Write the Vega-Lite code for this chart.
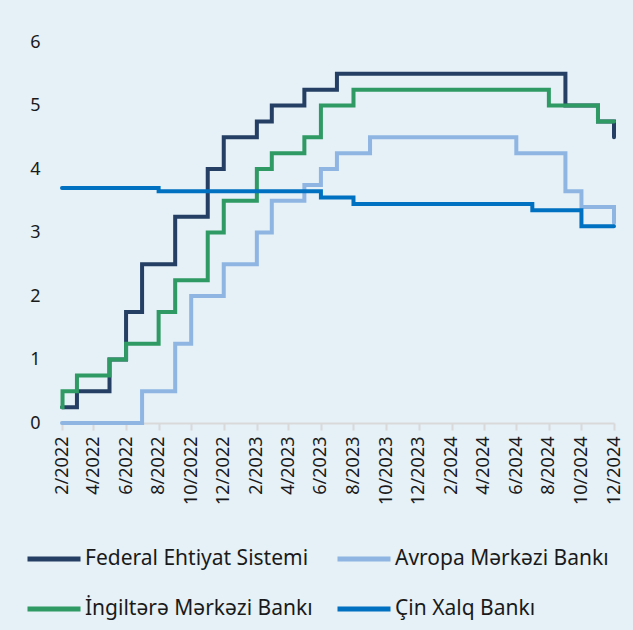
{
  "$schema": "https://vega.github.io/schema/vega-lite/v6.json",
  "width": 552,
  "height": 381,
  "autosize": {"type": "none"},
  "padding": {"left": 62, "top": 42, "right": 19, "bottom": 207},
  "background": "#e5f0f7",
  "config": {
    "view": {"stroke": null},
    "font": "Noto Sans",
    "axis": {"labelFont": "Noto Sans", "labelColor": "#1a1a1a", "grid": false, "title": null}
  },
  "data": {
    "values": [
      {"date": "2022-02-01", "bank": "Federal Ehtiyat Sistemi", "rate": 0.25},
      {"date": "2022-03-01", "bank": "Federal Ehtiyat Sistemi", "rate": 0.5},
      {"date": "2022-05-01", "bank": "Federal Ehtiyat Sistemi", "rate": 1.0},
      {"date": "2022-06-01", "bank": "Federal Ehtiyat Sistemi", "rate": 1.75},
      {"date": "2022-07-01", "bank": "Federal Ehtiyat Sistemi", "rate": 2.5},
      {"date": "2022-09-01", "bank": "Federal Ehtiyat Sistemi", "rate": 3.25},
      {"date": "2022-11-01", "bank": "Federal Ehtiyat Sistemi", "rate": 4.0},
      {"date": "2022-12-01", "bank": "Federal Ehtiyat Sistemi", "rate": 4.5},
      {"date": "2023-02-01", "bank": "Federal Ehtiyat Sistemi", "rate": 4.75},
      {"date": "2023-03-01", "bank": "Federal Ehtiyat Sistemi", "rate": 5.0},
      {"date": "2023-05-01", "bank": "Federal Ehtiyat Sistemi", "rate": 5.25},
      {"date": "2023-07-01", "bank": "Federal Ehtiyat Sistemi", "rate": 5.5},
      {"date": "2024-09-01", "bank": "Federal Ehtiyat Sistemi", "rate": 5.0},
      {"date": "2024-11-01", "bank": "Federal Ehtiyat Sistemi", "rate": 4.75},
      {"date": "2024-12-01", "bank": "Federal Ehtiyat Sistemi", "rate": 4.5},
      {"date": "2022-02-01", "bank": "Avropa Mərkəzi Bankı", "rate": 0.0},
      {"date": "2022-07-01", "bank": "Avropa Mərkəzi Bankı", "rate": 0.5},
      {"date": "2022-09-01", "bank": "Avropa Mərkəzi Bankı", "rate": 1.25},
      {"date": "2022-10-01", "bank": "Avropa Mərkəzi Bankı", "rate": 2.0},
      {"date": "2022-12-01", "bank": "Avropa Mərkəzi Bankı", "rate": 2.5},
      {"date": "2023-02-01", "bank": "Avropa Mərkəzi Bankı", "rate": 3.0},
      {"date": "2023-03-01", "bank": "Avropa Mərkəzi Bankı", "rate": 3.5},
      {"date": "2023-05-01", "bank": "Avropa Mərkəzi Bankı", "rate": 3.75},
      {"date": "2023-06-01", "bank": "Avropa Mərkəzi Bankı", "rate": 4.0},
      {"date": "2023-07-01", "bank": "Avropa Mərkəzi Bankı", "rate": 4.25},
      {"date": "2023-09-01", "bank": "Avropa Mərkəzi Bankı", "rate": 4.5},
      {"date": "2024-06-01", "bank": "Avropa Mərkəzi Bankı", "rate": 4.25},
      {"date": "2024-09-01", "bank": "Avropa Mərkəzi Bankı", "rate": 3.65},
      {"date": "2024-10-01", "bank": "Avropa Mərkəzi Bankı", "rate": 3.4},
      {"date": "2024-12-01", "bank": "Avropa Mərkəzi Bankı", "rate": 3.15},
      {"date": "2022-02-01", "bank": "İngiltərə Mərkəzi Bankı", "rate": 0.25},
      {"date": "2022-02-02", "bank": "İngiltərə Mərkəzi Bankı", "rate": 0.5},
      {"date": "2022-03-01", "bank": "İngiltərə Mərkəzi Bankı", "rate": 0.75},
      {"date": "2022-05-01", "bank": "İngiltərə Mərkəzi Bankı", "rate": 1.0},
      {"date": "2022-06-01", "bank": "İngiltərə Mərkəzi Bankı", "rate": 1.25},
      {"date": "2022-08-01", "bank": "İngiltərə Mərkəzi Bankı", "rate": 1.75},
      {"date": "2022-09-01", "bank": "İngiltərə Mərkəzi Bankı", "rate": 2.25},
      {"date": "2022-11-01", "bank": "İngiltərə Mərkəzi Bankı", "rate": 3.0},
      {"date": "2022-12-01", "bank": "İngiltərə Mərkəzi Bankı", "rate": 3.5},
      {"date": "2023-02-01", "bank": "İngiltərə Mərkəzi Bankı", "rate": 4.0},
      {"date": "2023-03-01", "bank": "İngiltərə Mərkəzi Bankı", "rate": 4.25},
      {"date": "2023-05-01", "bank": "İngiltərə Mərkəzi Bankı", "rate": 4.5},
      {"date": "2023-06-01", "bank": "İngiltərə Mərkəzi Bankı", "rate": 5.0},
      {"date": "2023-08-01", "bank": "İngiltərə Mərkəzi Bankı", "rate": 5.25},
      {"date": "2024-08-01", "bank": "İngiltərə Mərkəzi Bankı", "rate": 5.0},
      {"date": "2024-11-01", "bank": "İngiltərə Mərkəzi Bankı", "rate": 4.75},
      {"date": "2024-12-01", "bank": "İngiltərə Mərkəzi Bankı", "rate": 4.75},
      {"date": "2022-02-01", "bank": "Çin Xalq Bankı", "rate": 3.7},
      {"date": "2022-08-01", "bank": "Çin Xalq Bankı", "rate": 3.65},
      {"date": "2023-06-01", "bank": "Çin Xalq Bankı", "rate": 3.55},
      {"date": "2023-08-01", "bank": "Çin Xalq Bankı", "rate": 3.45},
      {"date": "2024-07-01", "bank": "Çin Xalq Bankı", "rate": 3.35},
      {"date": "2024-10-01", "bank": "Çin Xalq Bankı", "rate": 3.1},
      {"date": "2024-12-01", "bank": "Çin Xalq Bankı", "rate": 3.1}
    ]
  },
  "mark": {"type": "line", "interpolate": "step-after", "strokeWidth": 4, "strokeCap": "round"},
  "encoding": {
    "x": {
      "field": "date",
      "type": "temporal",
      "scale": {
        "type": "utc",
        "domain": [{"year": 2022, "month": 2, "date": 1, "utc": true}, {"year": 2024, "month": 12, "date": 1, "utc": true}]
      },
      "axis": {
        "values": [
          {"year": 2022, "month": 2, "date": 1, "utc": true},
          {"year": 2022, "month": 4, "date": 1, "utc": true},
          {"year": 2022, "month": 6, "date": 1, "utc": true},
          {"year": 2022, "month": 8, "date": 1, "utc": true},
          {"year": 2022, "month": 10, "date": 1, "utc": true},
          {"year": 2022, "month": 12, "date": 1, "utc": true},
          {"year": 2023, "month": 2, "date": 1, "utc": true},
          {"year": 2023, "month": 4, "date": 1, "utc": true},
          {"year": 2023, "month": 6, "date": 1, "utc": true},
          {"year": 2023, "month": 8, "date": 1, "utc": true},
          {"year": 2023, "month": 10, "date": 1, "utc": true},
          {"year": 2023, "month": 12, "date": 1, "utc": true},
          {"year": 2024, "month": 2, "date": 1, "utc": true},
          {"year": 2024, "month": 4, "date": 1, "utc": true},
          {"year": 2024, "month": 6, "date": 1, "utc": true},
          {"year": 2024, "month": 8, "date": 1, "utc": true},
          {"year": 2024, "month": 10, "date": 1, "utc": true},
          {"year": 2024, "month": 12, "date": 1, "utc": true}
        ],
        "labelExpr": "utcFormat(datum.value, '%-m/%Y')",
        "labelAngle": -90,
        "labelAlign": "right",
        "labelBaseline": "middle",
        "labelFontSize": 18,
        "labelPadding": 6,
        "labelFlush": false,
        "labelOverlap": false,
        "domainColor": "#d9d9d9",
        "domainWidth": 2,
        "tickColor": "#d9d9d9",
        "tickWidth": 2,
        "tickSize": 7
      }
    },
    "y": {
      "field": "rate",
      "type": "quantitative",
      "scale": {"domain": [0, 6]},
      "axis": {
        "values": [0, 1, 2, 3, 4, 5, 6],
        "domain": false,
        "ticks": false,
        "labelFontSize": 18,
        "labelPadding": 22
      }
    },
    "color": {
      "field": "bank",
      "type": "nominal",
      "scale": {
        "domain": ["Federal Ehtiyat Sistemi", "Avropa Mərkəzi Bankı", "İngiltərə Mərkəzi Bankı", "Çin Xalq Bankı"],
        "range": ["#243f63", "#8fb5e3", "#2f9a63", "#0070c0"]
      },
      "legend": {
        "title": null,
        "orient": "none",
        "legendX": -37,
        "legendY": 488,
        "direction": "horizontal",
        "columns": 2,
        "columnPadding": 14,
        "rowPadding": 11,
        "symbolType": "stroke",
        "symbolSize": 2809,
        "symbolStrokeWidth": 5,
        "labelFontSize": 21,
        "labelColor": "#1a1a1a",
        "labelOffset": 2,
        "labelLimit": 400
      }
    }
  }
}
